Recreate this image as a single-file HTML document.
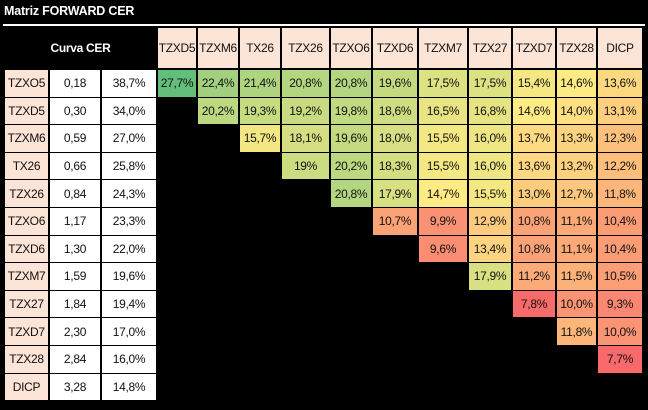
<!DOCTYPE html>
<html><head><meta charset="utf-8"><style>
body{margin:0;width:648px;height:410px;background:#000;overflow:hidden;font-family:"Liberation Sans",Calibri,sans-serif;position:relative}
.c{position:absolute;box-sizing:border-box;display:flex;align-items:center;justify-content:center;font-size:12px;letter-spacing:-0.3px;color:#111;border:1px solid #000}
#title{position:absolute;left:4px;top:4px;color:#fff;font-weight:bold;font-size:12.5px;letter-spacing:-0.2px}
#line{position:absolute;left:3px;top:24px;width:642px;height:2px;background:#fff}
</style></head><body>
<div id="title">Matriz FORWARD CER</div>
<div id="line"></div>
<div class="c" style="left:4px;top:27px;width:153px;height:42px;color:#fff;font-weight:bold;background:#000">Curva CER</div>
<script>
const tickers=["TZXO5","TZXD5","TZXM6","TX26","TZX26","TZXO6","TZXD6","TZXM7","TZX27","TZXD7","TZX28","DICP"];
const durations=["0,18","0,30","0,59","0,66","0,84","1,17","1,30","1,59","1,84","2,30","2,84","3,28"];
const yields=["38,7%","34,0%","27,0%","25,8%","24,3%","23,3%","22,0%","19,6%","19,4%","17,0%","16,0%","14,8%"];
const colHeaders=["TZXD5","TZXM6","TX26","TZX26","TZXO6","TZXD6","TZXM7","TZX27","TZXD7","TZX28","DICP"];
const matrix=[
[27.7,22.4,21.4,20.8,20.8,19.6,17.5,17.5,15.4,14.6,13.6],
[null,20.2,19.3,19.2,19.8,18.6,16.5,16.8,14.6,14.0,13.1],
[null,null,15.7,18.1,19.6,18.0,15.5,16.0,13.7,13.3,12.3],
[null,null,null,19,20.2,18.3,15.5,16.0,13.6,13.2,12.2],
[null,null,null,null,20.8,17.9,14.7,15.5,13.0,12.7,11.8],
[null,null,null,null,null,10.7,9.9,12.9,10.8,11.1,10.4],
[null,null,null,null,null,null,9.6,13.4,10.8,11.1,10.4],
[null,null,null,null,null,null,null,17.9,11.2,11.5,10.5],
[null,null,null,null,null,null,null,null,7.8,10.0,9.3],
[null,null,null,null,null,null,null,null,null,11.8,10.0],
[null,null,null,null,null,null,null,null,null,null,7.7]];
const colEdges=[157,197,239,281,330,372,418,468,512,556,597,643];
const top0=69,rowH=27.6;
const vals=matrix.flat().filter(v=>v!=null).sort((a,b)=>a-b);
const vmin=vals[0],vmax=vals[vals.length-1],vmid=vals[Math.floor(vals.length/2)];
function mix(a,b,t){return a.map((x,i)=>Math.round(x+(b[i]-x)*t));}
function color(v){const R=[248,105,107],Y=[255,235,132],G=[99,190,123];
 const c=v<=vmid?mix(R,Y,(v-vmin)/(vmid-vmin)):mix(Y,G,(v-vmid)/(vmax-vmid));return `rgb(${c})`;}
function cell(x,y,w,h,txt,bg,name){const d=document.createElement('div');d.className='c';
 d.style.cssText+=`left:${x}px;top:${y}px;width:${w}px;height:${h}px;background:${bg}`;d.textContent=txt;
 
 
 document.body.appendChild(d);}
colHeaders.forEach((h,j)=>cell(colEdges[j],27,colEdges[j+1]-colEdges[j],42,h,'#fce4d6','col-header-'+h.toLowerCase()));
tickers.forEach((t,i)=>{const y=top0+i*rowH;
 cell(4,y,45,rowH+1,t,'#fce4d6','row-ticker-'+t.toLowerCase());
 cell(49,y,52,rowH+1,durations[i],'#fff','row-duration');
 cell(101,y,56,rowH+1,yields[i],'#fff','row-yield');
 if(matrix[i])matrix[i].forEach((v,j)=>{if(v==null)return;
  cell(colEdges[j],y,colEdges[j+1]-colEdges[j],rowH+1,String(v.toFixed(v===19?0:1)).replace('.',',')+'%',color(v),'forward-cell');});
});
</script>
</body></html>
